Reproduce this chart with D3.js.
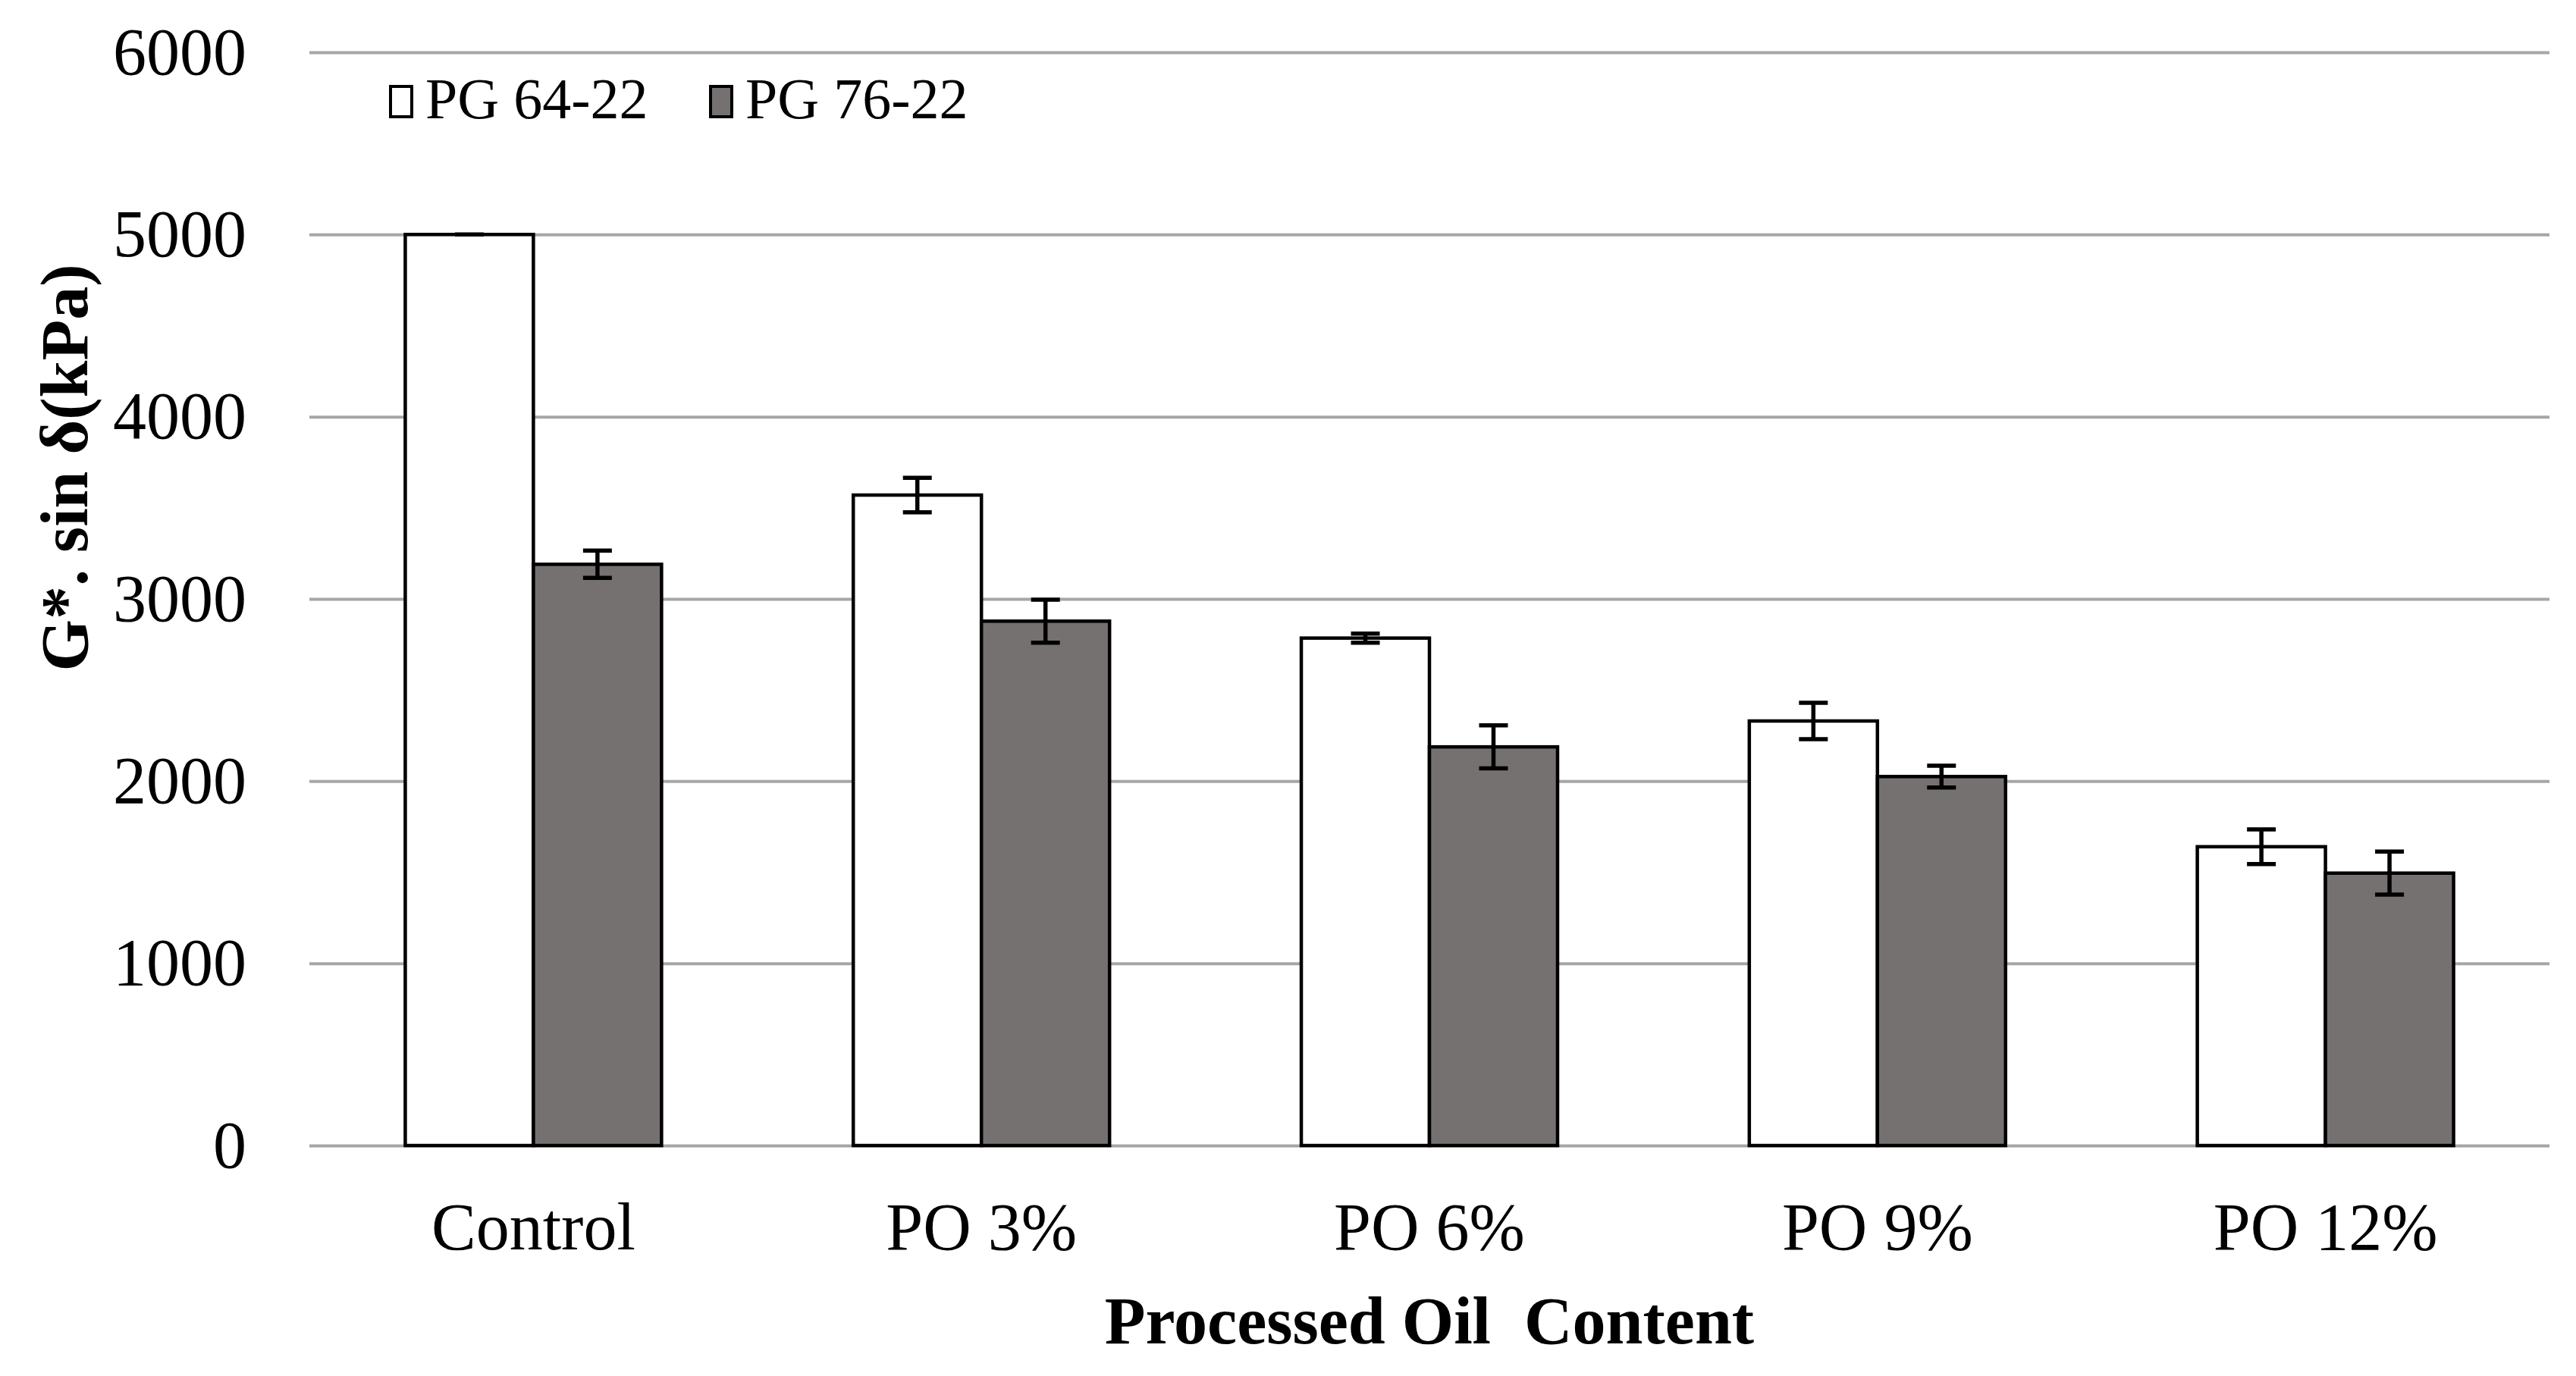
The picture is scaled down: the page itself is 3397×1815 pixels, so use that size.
<!DOCTYPE html>
<html>
<head>
<meta charset="utf-8">
<script src="https://cdn.jsdelivr.net/npm/d3@7"></script>
<style>
  body { margin: 0; background: #fff; }
  text { font-family: "Liberation Serif", "Times New Roman", serif; fill: #000; }
</style>
</head>
<body>
<svg width="3397" height="1815"></svg>
<script>
// data
var categories = ['Control', 'PO 3%', 'PO 6%', 'PO 9%', 'PO 12%'];
var seriesNames = ['PG 64-22', 'PG 76-22'];
var pg6422 = [5000, 3570, 2785, 2330, 1640];
var pg6422Err = [0, 95, 25, 100, 95];
var pg7622 = [3190, 2878, 2188, 2025, 1495];
var pg7622Err = [75, 118, 118, 60, 118];
var yTicks = [0, 1000, 2000, 3000, 4000, 5000, 6000];

var svg = d3.select('svg');
var padding = {t: 69, r: 35, b: 304, l: 408};
var width = 3397 - padding.l - padding.r;
var height = 1815 - padding.t - padding.b;

var colors = ['#ffffff', '#767171'];

var xScale = d3.scaleBand().domain(categories).range([0, width])
    .paddingInner(0.428).paddingOuter(0.214);
var xSub = d3.scaleBand().domain(seriesNames).range([0, xScale.bandwidth()]);
var yScale = d3.scaleLinear().domain([0, 6000]).range([height, 0]);

var g = svg.append('g').attr('transform', 'translate(' + [padding.l, padding.t] + ')');

// gridlines
var grid = g.append('g')
    .attr('class', 'y-grid')
    .call(d3.axisLeft(yScale).tickValues(yTicks).tickSize(-width).tickFormat(''));
grid.select('.domain').remove();
grid.selectAll('line').attr('stroke', '#a6a6a6').attr('stroke-width', 4);

// y tick labels
var yAxis = g.append('g')
    .attr('class', 'axis y-axis')
    .call(d3.axisLeft(yScale).tickValues(yTicks).tickSize(0).tickPadding(83).tickFormat(d3.format('d')));
yAxis.select('.domain').remove();
yAxis.selectAll('text')
    .attr('font-size', 88)
    .style('font-family', '"Liberation Serif", serif');

// x tick labels
var xAxis = g.append('g')
    .attr('class', 'axis x-axis')
    .attr('transform', 'translate(0,' + height + ')')
    .call(d3.axisBottom(xScale).tickSize(0).tickPadding(75));
xAxis.select('.domain').remove();
xAxis.selectAll('text')
    .attr('font-size', 88)
    .style('font-family', '"Liberation Serif", serif');

// bars
var rows = categories.map(function(c, i) {
    return [
        {cat: c, series: seriesNames[0], value: pg6422[i], err: pg6422Err[i], color: colors[0]},
        {cat: c, series: seriesNames[1], value: pg7622[i], err: pg7622Err[i], color: colors[1]}
    ];
});

var groups = g.selectAll('.cat')
    .data(rows)
    .enter().append('g')
    .attr('class', 'cat')
    .attr('transform', function(d) { return 'translate(' + xScale(d[0].cat) + ',0)'; });

groups.selectAll('rect')
    .data(function(d) { return d; })
    .enter().append('rect')
    .attr('x', function(d) { return xSub(d.series); })
    .attr('y', function(d) { return yScale(d.value); })
    .attr('width', xSub.bandwidth())
    .attr('height', function(d) { return height - yScale(d.value); })
    .attr('fill', function(d) { return d.color; })
    .attr('stroke', '#000')
    .attr('stroke-width', 4.5);

// error bars
var capHalf = 19;
groups.selectAll('.err')
    .data(function(d) { return d; })
    .enter().append('path')
    .attr('class', 'err')
    .attr('fill', 'none')
    .attr('stroke', '#000')
    .attr('stroke-width', 5.5)
    .attr('d', function(d) {
        var cx = xSub(d.series) + xSub.bandwidth() / 2;
        var y1 = yScale(d.value + d.err), y0 = yScale(d.value - d.err);
        return 'M' + (cx - capHalf) + ',' + y1 + 'H' + (cx + capHalf) +
            'M' + cx + ',' + y1 + 'V' + y0 +
            'M' + (cx - capHalf) + ',' + y0 + 'H' + (cx + capHalf);
    });

// legend
var legend = svg.append('g').attr('class', 'legend');
var legendX = [515, 937];
seriesNames.forEach(function(name, i) {
    legend.append('rect')
        .attr('x', legendX[i])
        .attr('y', 114)
        .attr('width', 28)
        .attr('height', 40)
        .attr('fill', colors[i])
        .attr('stroke', '#000')
        .attr('stroke-width', 4);
    legend.append('text')
        .attr('x', legendX[i] + 46)
        .attr('y', 156)
        .attr('font-size', 76)
        .text(name);
});

// axis titles
svg.append('text')
    .attr('class', 'y axis-label')
    .attr('transform', 'translate(85,617) rotate(-90)')
    .attr('text-anchor', 'middle')
    .attr('dominant-baseline', 'central')
    .attr('font-size', 88)
    .attr('font-weight', 'bold')
    .text('G*. sin δ(kPa)');

svg.append('text')
    .attr('class', 'x axis-label')
    .attr('x', padding.l + width / 2)
    .attr('y', 1772)
    .attr('text-anchor', 'middle')
    .attr('font-size', 88)
    .attr('font-weight', 'bold')
    .style('white-space', 'pre')
    .text('Processed Oil  Content');
</script>
</body>
</html>
